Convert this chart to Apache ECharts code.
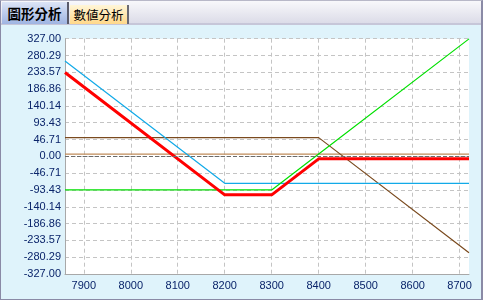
<!DOCTYPE html>
<html><head><meta charset="utf-8">
<script src="https://cdn.jsdelivr.net/npm/echarts@6/dist/echarts.min.js"></script>
<style>
html,body{margin:0;padding:0;width:483px;height:300px;overflow:hidden;background:#fff;}
#frame{position:absolute;left:0;top:0;width:480px;height:298px;border-left:1px solid #8a8aa6;border-top:1px solid #b8b8c8;border-right:2px solid #8a8aa6;border-bottom:1px solid #8a8aa6;background:#dff3fb;}
#head{position:absolute;left:0;top:0;width:480px;height:22px;background:linear-gradient(#f8f8fb,#dcdce8);border-bottom:2px solid #c6c6d8;}
.tab{position:absolute;font-family:"Noto Sans CJK TC","Noto Sans CJK JP",sans-serif;color:#000;text-align:center;box-sizing:border-box;}
#t1{left:1px;top:1px;width:67px;height:22px;line-height:22px;font-size:13.5px;font-weight:bold;background:linear-gradient(#dce4f6,#9fb4e2);border-right:2px solid #5a5a6a;}
#t2{left:69px;top:4px;width:59px;height:19px;line-height:19px;font-size:12.5px;background:linear-gradient(#fff6d8,#ffd88a);border-right:2px solid #6a6a74;}
#chart{position:absolute;left:0;top:24px;width:480px;height:274px;}
</style></head>
<body>
<div id="frame">
  <div id="head">
    <div class="tab" id="t1">圖形分析</div>
    <div class="tab" id="t2">數値分析</div>
  </div>
  <div id="chart"></div>
</div>
<script>
// data
const xs = [7860, 8200, 8300, 8400, 8720];
const longPut = [265, -75, -75, -75, -75];
const longCall = [-93.43, -93.43, -93.43, 6.57, 326.57];
const shortCall = [52, 52, 52, 52, -268];
const flatLine = [6, 6, 6, 6, 6];
const total = [233, -107, -107, -7, -7];
const xTicks = [7900, 8000, 8100, 8200, 8300, 8400, 8500, 8600, 8700];
const yTicks = ['-327.00','-280.29','-233.57','-186.86','-140.14','-93.43','-46.71','0.00','46.71','93.43','140.14','186.86','233.57','280.29','327.00'];

const yMin = -327, yMax = 327, yStep = 654 / 14;
const pairs = arr => xs.map((x, i) => [x, arr[i]]);
const font = '"Liberation Sans", Arial, sans-serif';

const chart = echarts.init(document.getElementById('chart'), null, {renderer: 'canvas'});
const mk = (name, arr, color, width, z) => ({
  name, type: 'line', data: pairs(arr), symbol: 'none', silent: true, z,
  lineStyle: {color, width}, animation: false
});
chart.setOption({
  animation: false,
  grid: {left: 64, top: 13.7, width: 404, height: 235.3, show: true, backgroundColor: '#ffffff', borderWidth: 0},
  xAxis: {
    type: 'value', min: 7860, max: 8720,
    axisLine: {show: true, onZero: false, lineStyle: {color: '#a8a8a8', width: 1}},
    axisTick: {show: false, customValues: xTicks},
    axisLabel: {customValues: xTicks, color: '#0a246a', fontFamily: font, fontSize: 11, margin: 6,
      formatter: v => String(v)},
    splitLine: {show: true, lineStyle: {color: '#c4c4c4', type: [4, 3], width: 1}}
  },
  yAxis: {
    type: 'value', min: yMin, max: yMax, interval: yStep,
    axisLine: {show: true, lineStyle: {color: '#a8a8a8', width: 1}},
    axisTick: {show: false},
    axisLabel: {color: '#0a246a', fontFamily: font, fontSize: 11, margin: 4,
      formatter: v => yTicks[Math.round((v - yMin) / yStep)]},
    splitLine: {show: true, lineStyle: {color: '#c4c4c4', type: [4, 3], width: 1}}
  },
  series: [
    Object.assign(mk('flat', flatLine, '#c08c5a', 1.2, 2), {
      markLine: {silent: true, symbol: 'none', label: {show: false}, animation: false,
        lineStyle: {color: '#6a6a6a', type: [4, 2], width: 1}, data: [{yAxis: 0}]}
    }),
    mk('shortCall', shortCall, '#7a4a1e', 1.2, 3),
    mk('longPut', longPut, '#12aae8', 1.2, 3),
    mk('longCall', longCall, '#00e000', 1.2, 3),
    mk('total', total, '#ff0000', 3, 4)
  ]
});
</script>
</body></html>
